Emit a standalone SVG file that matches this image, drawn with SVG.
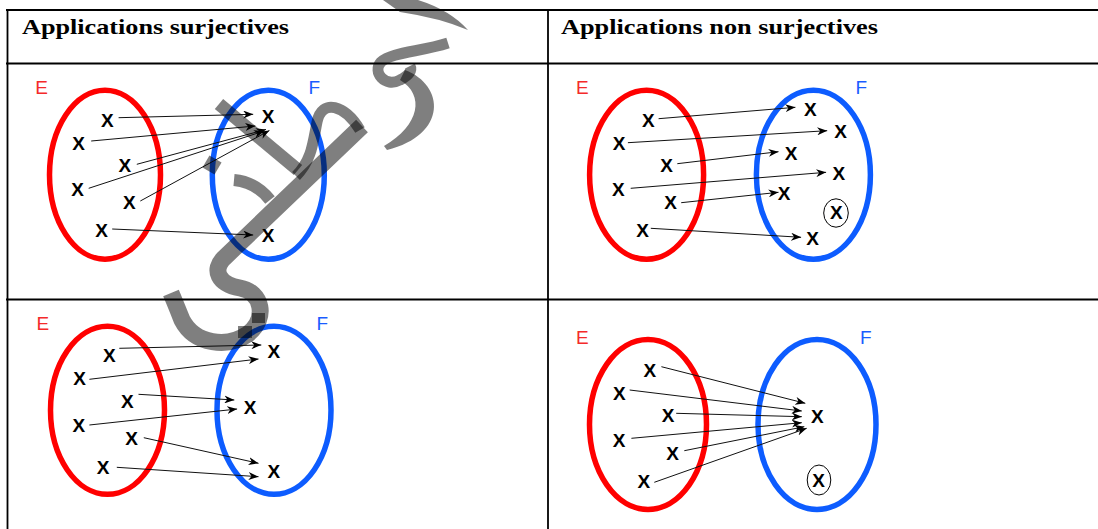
<svg xmlns="http://www.w3.org/2000/svg" width="1098" height="529" viewBox="0 0 1098 529">
<style>
.grid{stroke:#000;stroke-width:1.8;fill:none}
.hdr{font-family:"Liberation Serif",serif;font-weight:bold;font-size:22px;fill:#000}
.set{font-family:"Liberation Sans",Arial,sans-serif;font-size:19px}
.e{fill:#f42a2a}
.f{fill:#1a5cff}
.red{fill:none;stroke:#ff0000;stroke-width:5.5}
.blue{fill:none;stroke:#0d5cff;stroke-width:5.5}
.x{font-family:"Liberation Sans",Arial,sans-serif;font-weight:bold;font-size:19px;fill:#000;text-anchor:middle}
.ring{fill:none;stroke:#000;stroke-width:1}
.arr{stroke:#111;stroke-width:1;fill:none;marker-end:url(#ah)}
.wm{fill:none;stroke:#000;stroke-opacity:0.5}
.wmf{fill:#000;fill-opacity:0.5}
</style>
<defs>
<marker id="ah" markerWidth="11" markerHeight="8" refX="10" refY="4" orient="auto" markerUnits="userSpaceOnUse" viewBox="0 0 11 8">
<path d="M0,0 L10,4 L0,8 L3,4 Z" fill="#000"/>
</marker>
</defs>
<rect width="1098" height="529" fill="#fff"/>
<g id="table">
<line class="grid" x1="6" y1="10" x2="1098" y2="10"/>
<line class="grid" x1="6" y1="63.5" x2="1098" y2="63.5"/>
<line class="grid" x1="6" y1="299.5" x2="1098" y2="299.5"/>
<line class="grid" x1="7.5" y1="9" x2="7.5" y2="529"/>
<line class="grid" x1="548" y1="9" x2="548" y2="529"/>
<text class="hdr" x="22" y="33.5" textLength="267" lengthAdjust="spacingAndGlyphs">Applications surjectives</text>
<text class="hdr" x="561" y="33.5" textLength="317" lengthAdjust="spacingAndGlyphs">Applications non surjectives</text>
</g>

<g id="panel1">
<ellipse class="red" cx="105" cy="174.7" rx="55.5" ry="84.5"/>
<ellipse class="blue" cx="268.3" cy="174.7" rx="56" ry="84.5"/>
<text class="set e" x="35.3" y="94">E</text>
<text class="set f" x="308.5" y="94">F</text>
<text class="x" x="107.3" y="126.5">X</text>
<text class="x" x="78.6" y="149.5">X</text>
<text class="x" x="124.9" y="171.8">X</text>
<text class="x" x="77.5" y="196">X</text>
<text class="x" x="129.4" y="209">X</text>
<text class="x" x="101.7" y="236.8">X</text>
<text class="x" x="268" y="122.5">X</text>
<text class="x" x="268" y="242">X</text>
</g>
<g id="panel2">
<ellipse class="red" cx="646.6" cy="174.7" rx="57" ry="84.5"/>
<ellipse class="blue" cx="813.4" cy="174.7" rx="57" ry="84.5"/>
<text class="set e" x="576" y="94">E</text>
<text class="set f" x="855.5" y="94">F</text>
<text class="x" x="648.4" y="126.5">X</text>
<text class="x" x="619" y="149.5">X</text>
<text class="x" x="666.7" y="171.8">X</text>
<text class="x" x="618.4" y="196">X</text>
<text class="x" x="670.6" y="209">X</text>
<text class="x" x="642.7" y="236.8">X</text>
<text class="x" x="810.3" y="115.8">X</text>
<text class="x" x="840.6" y="137.8">X</text>
<text class="x" x="791.2" y="160">X</text>
<text class="x" x="838.8" y="180">X</text>
<text class="x" x="784.2" y="200">X</text>
<text class="x" x="836.4" y="218.8">X</text>
<ellipse class="ring" cx="836" cy="213" rx="12.3" ry="14.2"/>
<text class="x" x="812.7" y="245">X</text>
</g>
<g id="panel3">
<ellipse class="red" cx="107.5" cy="410.3" rx="57" ry="84"/>
<ellipse class="blue" cx="274" cy="410.3" rx="57" ry="84"/>
<text class="set e" x="36.5" y="329.7">E</text>
<text class="set f" x="316.5" y="329.7">F</text>
<text class="x" x="109.4" y="361.8">X</text>
<text class="x" x="79.6" y="385">X</text>
<text class="x" x="127.3" y="407.8">X</text>
<text class="x" x="78.9" y="431.8">X</text>
<text class="x" x="131.5" y="445">X</text>
<text class="x" x="103.1" y="473.5">X</text>
<text class="x" x="273.9" y="357.8">X</text>
<text class="x" x="250.1" y="414">X</text>
<text class="x" x="273.9" y="477.8">X</text>
</g>
<g id="panel4">
<ellipse class="red" cx="648" cy="424.5" rx="58.5" ry="85"/>
<ellipse class="blue" cx="817" cy="424.5" rx="59" ry="85"/>
<text class="set e" x="576" y="344">E</text>
<text class="set f" x="860" y="344">F</text>
<text class="x" x="649.8" y="376.8">X</text>
<text class="x" x="619.4" y="399.5">X</text>
<text class="x" x="668.1" y="421.8">X</text>
<text class="x" x="619.1" y="446.8">X</text>
<text class="x" x="672.7" y="459.5">X</text>
<text class="x" x="643.8" y="487.5">X</text>
<text class="x" x="817.3" y="422.8">X</text>
<text class="x" x="818.7" y="486.8">X</text>
<ellipse class="ring" cx="819" cy="480" rx="11.8" ry="15"/>
</g>

<g id="connectors">
<line class="arr" x1="118.6" y1="117.7" x2="253.2" y2="114.3"/>
<line class="arr" x1="91.2" y1="141" x2="255.3" y2="126"/>
<line class="arr" x1="136.8" y1="164.3" x2="266" y2="129.5"/>
<line class="arr" x1="88.7" y1="188.3" x2="264" y2="131"/>
<line class="arr" x1="140.3" y1="201" x2="269.4" y2="130.5"/>
<line class="arr" x1="112.2" y1="229" x2="253.2" y2="235"/>

<line class="arr" x1="658.6" y1="118.7" x2="795.4" y2="107.3"/>
<line class="arr" x1="627.9" y1="142.7" x2="827.2" y2="130.7"/>
<line class="arr" x1="677.3" y1="163.7" x2="778.5" y2="151.7"/>
<line class="arr" x1="630.7" y1="188.3" x2="826.1" y2="172.3"/>
<line class="arr" x1="681.2" y1="202.7" x2="778.5" y2="192.3"/>
<line class="arr" x1="650.8" y1="228.3" x2="801.1" y2="237.3"/>

<line class="arr" x1="119.3" y1="348.3" x2="261.3" y2="345"/>
<line class="arr" x1="89.4" y1="379.3" x2="258.5" y2="359"/>
<line class="arr" x1="138.5" y1="394.3" x2="234.3" y2="400"/>
<line class="arr" x1="89.4" y1="425" x2="237.1" y2="409"/>
<line class="arr" x1="143.8" y1="437.7" x2="258.5" y2="463.3"/>
<line class="arr" x1="116.8" y1="467.3" x2="258.5" y2="476.7"/>

<line class="arr" x1="661.4" y1="366.7" x2="805.3" y2="403.3"/>
<line class="arr" x1="629.7" y1="390" x2="801.8" y2="411"/>
<line class="arr" x1="676.2" y1="413.3" x2="801.8" y2="416.7"/>
<line class="arr" x1="631.4" y1="438.3" x2="801.8" y2="422.7"/>
<line class="arr" x1="684.3" y1="450.7" x2="804.3" y2="426.7"/>
<line class="arr" x1="654.3" y1="482.3" x2="806.7" y2="428.3"/>
</g>

<g id="watermark">
<path class="wm" stroke-width="17" d="M 362 126 L 224 258 C 212 270, 218 284, 240 288 C 262 292, 268 318, 248 334 C 228 348, 195 345, 182 320 C 178 310, 174 300, 171 293"/>
<path class="wm" stroke-width="13" d="M 219 104 L 298 170"/>
<path class="wm" stroke-width="11" d="M 360 130 C 345 105, 322 98, 317 122 C 313 142, 312 160, 296 176"/>
<path class="wm" stroke-width="12" d="M 234 180 Q 256 182, 270 200"/>
<path class="wmf" d="M 383 0 L 418 0 Q 450 10 468 30 Q 440 18 400 12 Z"/>
<path class="wm" stroke-width="11" d="M 448 43 C 420 52, 392 52, 381 62 C 372 72, 385 88, 400 80 C 410 75, 412 70, 410 66"/>
<path class="wmf" d="M 405 70 C 445 85, 448 135, 387 150 L 384 146 C 420 125, 425 95, 400 80 Z"/>
<rect class="wmf" x="205" y="158" width="14" height="14" transform="rotate(30 212 165)"/>
<rect class="wmf" x="252" y="313" width="13" height="10"/>
<rect class="wmf" x="238" y="326" width="14" height="12"/>
</g>
</svg>
